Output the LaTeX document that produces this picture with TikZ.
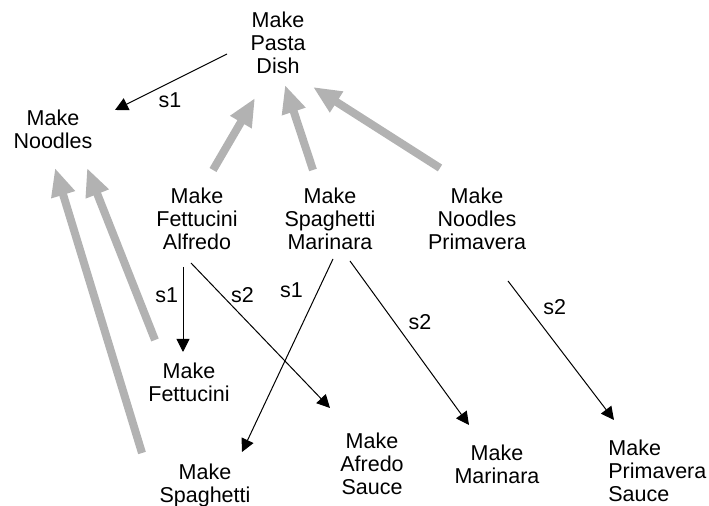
\documentclass[tikz,border=0pt]{standalone}
\usepackage{fontspec}
\setmainfont{Liberation Sans}
\usetikzlibrary{arrows.meta}
\begin{document}
\begin{tikzpicture}[x=0.5pt,y=-0.5pt,
    task/.style={anchor=north,inner sep=0pt,align=center,font=\fontsize{10.75}{11.5}\selectfont},
    lab/.style={inner sep=0pt,font=\fontsize{10.75}{11.5}\selectfont},
    link/.style={line width=0.5pt,-{Triangle[length=6.5pt,width=6.5pt]}},
    super/.style={line width=4pt,draw=black!30,-{Triangle[length=14pt,width=11.5pt]}}]
\useasboundingbox (0,0) rectangle (709,506);

\node[task] (pasta) at (278,12) {Make\\Pasta\\Dish};
\node[task] (noodles) at (53,110) {Make\\Noodles};
\node[task] (alfredo) at (197,188) {Make\\Fettucini\\Alfredo};
\node[task] (marinara) at (330,188) {Make\\Spaghetti\\Marinara};
\node[task] (primavera) at (477,188) {Make\\Noodles\\Primavera};
\node[task] (fettucini) at (189,363) {Make\\Fettucini};
\node[task] (spaghetti) at (205,464) {Make\\Spaghetti};
\node[task] (afredo) at (372,433) {Make\\Afredo\\Sauce};
\node[task] (marsauce) at (497,445) {Make\\Marinara};
\node[task,anchor=north west,align=left] (primsauce) at (608,440) {Make\\Primavera\\Sauce};

% grey arrows: subtask back to its parent
\draw[super] ([shift={(16,-18)}]alfredo.north) -- ([shift={(-23,86)}]pasta.north);
\draw[super] ([shift={(-17,-18)}]marinara.north) -- ([shift={(7,73)}]pasta.north);
\draw[super] ([shift={(-37,-20)}]primavera.north) -- ([shift={(35,75)}]pasta.north);
\draw[super] ([shift={(-34,-23)}]fettucini.north) -- ([shift={(34,58)}]noodles.north);
\draw[super] ([shift={(-63,-11)}]spaghetti.north) -- ([shift={(2,58)}]noodles.north);

% black arrows: steps
\draw[link] ([shift={(-51,42)}]pasta.north) -- ([shift={(62,0)}]noodles.north)
    node[lab,pos=.51,below=4.9pt] {s1};
\draw[link] ([shift={(-14,79)}]alfredo.north) -- ([shift={(-6,-11)}]fettucini.north)
    node[lab,pos=.33,left=2.2pt] {s1};
\draw[link] ([shift={(-6,75)}]alfredo.north) -- ([shift={(-42,-25)}]afredo.north)
    node[lab,pos=.22,right=4.5pt] {s2};
\draw[link] ([shift={(3,71)}]marinara.north) -- ([shift={(37,-12)}]spaghetti.north)
    node[lab,pos=.16,left=7.5pt] {s1};
\draw[link] ([shift={(20,73)}]marinara.north) -- ([shift={(-28,-20)}]marsauce.north)
    node[lab,pos=.37,right=7.1pt] {s2};
\draw[link] ([shift={(31,93)}]primavera.north) -- ([shift={(6,-20)}]primsauce.north west)
    node[lab,pos=.19,right=7.4pt] {s2};
\end{tikzpicture}
\end{document}
